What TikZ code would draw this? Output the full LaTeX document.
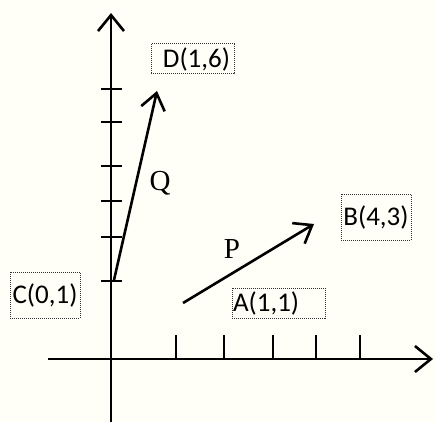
\documentclass[tikz,border=0pt]{standalone}
\usepackage{fontspec}
\setsansfont{Carlito}
\newfontfamily\pqfont{Liberation Serif}
\usepackage{tikz}
\usetikzlibrary{arrows.meta}

\begin{document}
\begin{tikzpicture}[
  x=1pt, y=-1pt,
  axis/.style={line width=2.6pt, -{Straight Barb[length=16pt, width=26pt, line width=2.6pt]}},
  vec/.style={line width=2.6pt, -{Straight Barb[length=16pt, width=24pt, line width=2.6pt]}},
  tickmark/.style={line width=2.6pt},
  ptlabel/.style={draw=black!80, densely dotted, line width=1pt, inner sep=1pt,
    font=\sffamily\fontsize{27}{30}\selectfont, text=black},
  veclabel/.style={font=\pqfont\fontsize{29}{32}\selectfont}]
\fill[white!97!yellow] (0,0) rectangle (435,422);
\useasboundingbox (0,0) rectangle (435,422);
% axes
\coordinate (o) at (111,359);
\coordinate (ybot) at (111,422);
\coordinate (ytop) at (111,13);
\coordinate (xleft) at (48,359);
\coordinate (xright) at (433,359);
\draw[axis] (ybot) -- (ytop);
\draw[axis] (xleft) -- (xright);
\foreach \y in {89,122,166,201,237,281}
  \draw[tickmark] (101,\y) -- (122,\y);
\foreach \x in {176,224,273,316,360}
  \draw[tickmark] (\x,335) -- (\x,359);
% vectors
\coordinate (c) at (114,280);
\coordinate (d) at (157,91);
\coordinate (a) at (183,303);
\coordinate (b) at (314,224);
\draw[vec] (c) -- (d);
\draw[vec] (a) -- (b);
\node[veclabel] (q) at (160,183) {Q};
\node[veclabel] (p) at (232,249) {P};
% point labels
\node[ptlabel, minimum width=83pt, minimum height=30pt] (dlab) at (192.5,59) {\hspace{8pt}D(1,6)};
\node[ptlabel, minimum width=70pt, minimum height=46pt] (clab) at (45,295) {C(0,1)};
\node[ptlabel, minimum width=70pt, minimum height=46pt] (blab) at (376,217) {B(4,3)};
\node[ptlabel, text width=91pt, minimum height=30pt, align=left] (alab) at (278.5,303) {A(1,1)};
\end{tikzpicture}
\end{document}
